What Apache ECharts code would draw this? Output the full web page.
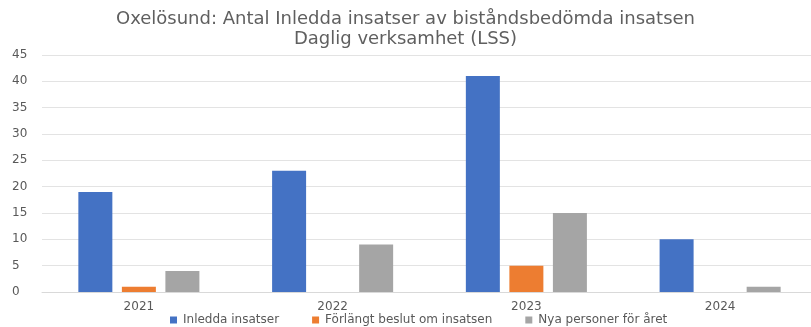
<!DOCTYPE html>
<html><head><meta charset="utf-8">
<script src="https://cdn.jsdelivr.net/npm/echarts@6/dist/echarts.min.js"></script>
<style>html,body{margin:0;padding:0;background:#fff}#c{width:811px;height:327px}</style>
</head><body><div id="c"></div>
<script>
const categories = ['2021', '2022', '2023', '2024'];
const inledda = [19, 23, 41, 10];
const forlangt = [1, 0, 5, 0];
const nya = [4, 9, 15, 1];
const seriesNames = ['Inledda insatser', 'Förlängt beslut om insatsen', 'Nya personer för året'];
const yTicks = {min: 0, max: 45, interval: 5};

const font = 'DejaVu Sans';
const chart = echarts.init(document.getElementById('c'), null, {renderer: 'canvas'});
chart.setOption({
  animation: false,
  textStyle: {fontFamily: font},
  title: {
    text: 'Oxelösund: Antal Inledda insatser av biståndsbedömda insatsen\nDaglig verksamhet (LSS)',
    left: 'center', top: 9, padding: 0,
    textStyle: {fontFamily: font, fontSize: 18, fontWeight: 'normal', color: '#5f5f5f', lineHeight: 20}
  },
  legend: {
    left: 170, top: 314, padding: 0, itemWidth: 7, itemHeight: 7, itemGap: 33, icon: 'rect',
    textStyle: {fontFamily: font, fontSize: 12, color: '#595959', padding: [0, 0, 0, 1]}
  },
  grid: {left: 42, right: -6, top: 55, bottom: 35, outerBoundsMode: 'none', containLabel: false},
  xAxis: {
    type: 'category', data: categories,
    axisLine: {lineStyle: {color: '#d9d9d9'}}, axisTick: {show: false},
    axisLabel: {color: '#595959', fontSize: 12, margin: 9}
  },
  yAxis: {
    type: 'value', min: yTicks.min, max: yTicks.max, interval: yTicks.interval,
    axisLine: {show: false}, axisTick: {show: false},
    splitLine: {lineStyle: {color: '#e3e3e3'}},
    axisLabel: {color: '#595959', fontSize: 12, margin: 30, align: 'left'}
  },
  series: [
    {name: seriesNames[0], type: 'bar', data: inledda, itemStyle: {color: '#4472C4'}, barWidth: 34, barGap: '28%'},
    {name: seriesNames[1], type: 'bar', data: forlangt, itemStyle: {color: '#ED7D31'}, barWidth: 34},
    {name: seriesNames[2], type: 'bar', data: nya, itemStyle: {color: '#A5A5A5'}, barWidth: 34}
  ]
});
</script></body></html>
